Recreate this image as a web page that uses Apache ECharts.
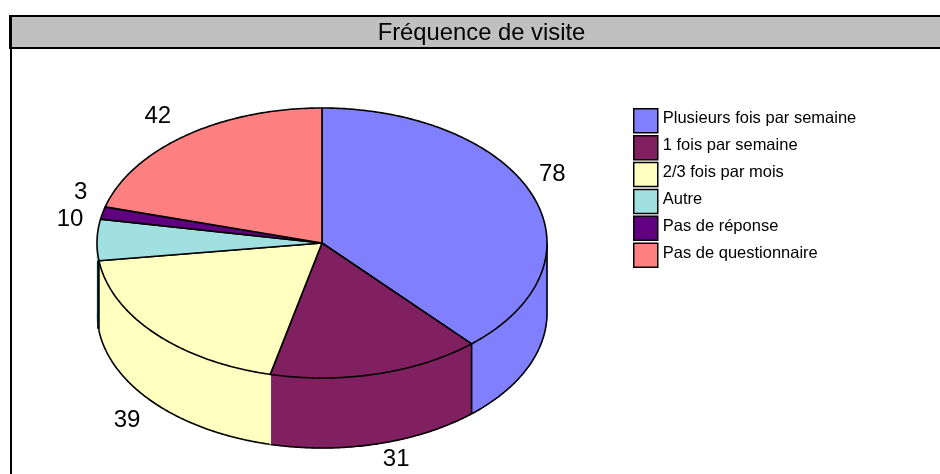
<!DOCTYPE html>
<html><head><meta charset="utf-8">
<style>html,body{margin:0;padding:0;background:#fff}#c{width:940px;height:474px}</style>
<script src="https://cdn.jsdelivr.net/npm/echarts@6/dist/echarts.min.js"></script>
</head><body><div id="c"></div>
<script>
const chartTitle = 'Fréquence de visite';
const categories = ['Plusieurs fois par semaine','1 fois par semaine','2/3 fois par mois','Autre','Pas de réponse','Pas de questionnaire'];
const values = [78,31,39,10,3,42];
const colors = ['#8080FF','#802060','#FFFFC0','#A0E0E0','#600080','#FF8080'];

const CX=322, CY=243, RX=225, RY=135, DEPTH=70, LW=1.6;
const labelOffsets = [[20,-21],[19,15],[-28,17],[-27,-20],[-22,-21],[-28,-19]];
const wallEdge = ['#000','#000','#FFFFC0','#000','#000','#000'];
const total = values.reduce((a,b)=>a+b,0);
const pt=(t,dy)=>[CX+RX*Math.sin(t), CY-RY*Math.cos(t)+(dy||0)];
function arc(a,b,dy){const n=Math.max(2,Math.ceil((b-a)/0.01));const p=[];for(let i=0;i<=n;i++)p.push(pt(a+(b-a)*i/n,dy));return p;}

function renderSlice(idx){
  return function(params,api){
    let before=0; for(let i=0;i<idx;i++) before+=values[i];
    const v=api.value(0), T=Math.PI*2;
    const a=before/total*T, b=(before+v)/total*T, mid=(a+b)/2;
    const col=colors[idx], kids=[];
    const wa=Math.max(a,Math.PI/2), wb=Math.min(b,Math.PI*1.5);
    if(wb>wa){
      const top=arc(wa,wb,0), bot=arc(wa,wb,DEPTH);
      kids.push({type:'polygon',z2:1,shape:{points:top.concat(bot.slice().reverse())},style:{fill:col,stroke:col,lineWidth:1}});
      kids.push({type:'polyline',z2:2,shape:{points:bot},style:{fill:null,stroke:idx===3?col:'#000',lineWidth:LW}});
      if(a>Math.PI/2) kids.push({type:'line',z2:3,shape:{x1:pt(a)[0],y1:pt(a)[1],x2:pt(a,DEPTH)[0],y2:pt(a,DEPTH)[1]},style:{stroke:wallEdge[idx],lineWidth:LW}});
      if(idx===0) kids.push({type:'line',z2:3,shape:{x1:pt(wa)[0],y1:pt(wa)[1],x2:pt(wa,DEPTH)[0],y2:pt(wa,DEPTH)[1]},style:{stroke:'#000',lineWidth:LW}});
      if(idx===3) kids.push({type:'line',z2:3,shape:{x1:pt(a)[0]-1,y1:pt(a)[1],x2:pt(a,DEPTH)[0]-1,y2:pt(a,DEPTH)[1]-2},style:{stroke:'#000',lineWidth:LW}});
    }
    kids.push({type:'polygon',z2:5,shape:{points:[[CX,CY]].concat(arc(a,b,0))},style:{fill:col,stroke:'#000',lineWidth:LW,lineJoin:'round'}});
    const m=pt(mid, mid>Math.PI/2&&mid<Math.PI*1.5?DEPTH:0), o=labelOffsets[idx];
    kids.push({type:'text',z2:10,style:{x:m[0]+o[0],y:m[1]+o[1],text:String(v),fill:'#000',font:'24px "Liberation Sans", Arial, sans-serif',align:'center',verticalAlign:'middle'}});
    return {type:'group',children:kids};
  };
}

const chart=echarts.init(document.getElementById('c'),null,{renderer:'canvas'});
chart.setOption({
  animation:false,
  backgroundColor:'#fff',
  title:{text:chartTitle,left:481.5,top:18,textAlign:'center',padding:0,
    textStyle:{fontFamily:'"Liberation Sans", Arial, sans-serif',fontSize:23.8,fontWeight:'normal',color:'#000',lineHeight:30}},
  legend:{orient:'vertical',left:633,top:108,itemWidth:24,itemHeight:24,itemGap:1.4,padding:0,
    icon:'rect',data:categories,selectedMode:false,
    itemStyle:{borderColor:'#000',borderWidth:1.5},
    formatter:name=>'{t|'+name+'}',
    textStyle:{rich:{t:{fontFamily:'"Liberation Sans", Arial, sans-serif',fontSize:16.5,color:'#000',lineHeight:18,padding:[0,0,4,0]}}}},
  graphic:[
    {type:'rect',z:-1,silent:true,shape:{x:11,y:16,width:950,height:32},style:{fill:'#C0C0C0',stroke:'#000',lineWidth:2}},
    {type:'line',z:-1,silent:true,shape:{x1:11,y1:16,x2:11,y2:480},style:{stroke:'#000',lineWidth:2}},
    {type:'rect',z:-1,silent:true,shape:{x:9,y:15,width:3,height:34},style:{fill:'#000'}}
  ],
  series:categories.map((name,i)=>({
    type:'custom',name,coordinateSystem:'none',silent:true,
    itemStyle:{color:colors[i]},
    data:[[values[i]]],
    renderItem:renderSlice(i)
  }))
});
</script></body></html>
